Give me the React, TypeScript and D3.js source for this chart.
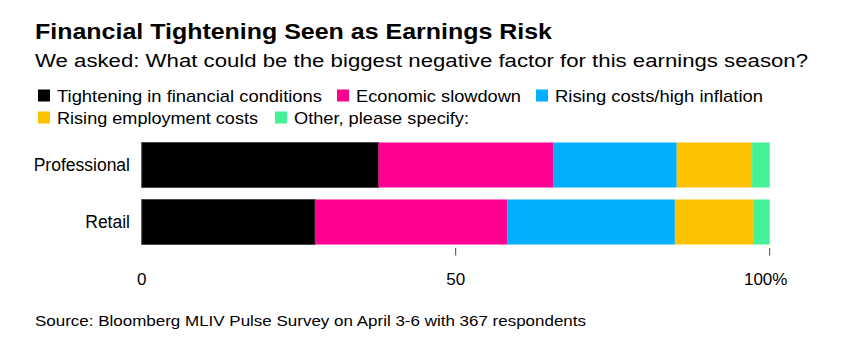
import React from "react";
import * as d3 from "d3";

const categories = ["Professional", "Retail"];
const seriesNames = [
  "Tightening in financial conditions",
  "Economic slowdown",
  "Rising costs/high inflation",
  "Rising employment costs",
  "Other, please specify:",
];
const seriesColors = ["#000000", "#ff0090", "#00b0ff", "#fdc300", "#42f295"];
const tighteningValues = [37.7, 27.6];
const slowdownValues = [27.9, 30.6];
const inflationValues = [19.6, 26.7];
const employmentValues = [12.0, 12.6];
const otherValues = [2.8, 2.5];
const tickValues = [0, 50, 100];
const tickLabels = ["0", "50", "100%"];

const title = "Financial Tightening Seen as Earnings Risk";
const subtitle = "We asked: What could be the biggest negative factor for this earnings season?";
const source = "Source: Bloomberg MLIV Pulse Survey on April 3-6 with 367 respondents";

const W = 843;
const H = 356;
const FONT = "'Liberation Sans', Arial, Helvetica, sans-serif";

// legend layout: [row, x of square, text length]
const legendLayout = [
  { row: 0, x: 38, len: 265 },
  { row: 0, x: 337, len: 165 },
  { row: 0, x: 536, len: 208 },
  { row: 1, x: 38, len: 201 },
  { row: 1, x: 275, len: 175 },
];

export default function App() {
  const keys = seriesNames;
  const allValues = [tighteningValues, slowdownValues, inflationValues, employmentValues, otherValues];
  const table = categories.map((c, i) => {
    const row: any = { category: c };
    keys.forEach((k, j) => (row[k] = allValues[j][i]));
    return row;
  });
  const stacked = d3.stack<any>().keys(keys)(table);

  const x = d3.scaleLinear().domain([0, 100]).range([141.7, 769.7]);
  const y = d3.scaleBand<string>().domain(categories).range([142.5, 244.5]).paddingInner(0.21).paddingOuter(0);

  return (
    <svg
      width={W}
      height={H}
      style={{ position: "absolute", left: 0, top: 0, background: "#fff" }}
      fontFamily={FONT}
    >
      <rect x={0} y={0} width={W} height={H} fill="#fff" />
      <text x={35} y={38.5} fontSize={22.5} fontWeight="bold" fill="#000" textLength={517} lengthAdjust="spacingAndGlyphs">
        {title}
      </text>
      <text x={35} y={67} fontSize={17.5} fill="#000" textLength={773} lengthAdjust="spacingAndGlyphs">
        {subtitle}
      </text>
      {legendLayout.map((l, i) => {
        const cy = l.row === 0 ? 95.5 : 117.5;
        return (
          <g key={i}>
            <rect x={l.x} y={cy - 6} width={12} height={12} fill={seriesColors[i]} />
            <text x={l.x + 19} y={cy + 6} fontSize={17} fill="#000" textLength={l.len} lengthAdjust="spacingAndGlyphs">
              {seriesNames[i]}
            </text>
          </g>
        );
      })}

      {stacked.map((s, i) => (
        <g key={s.key} fill={seriesColors[i]}>
          {s.map((d, j) => (
            <rect
              key={j}
              x={x(d[0])}
              y={y(categories[j])!}
              width={x(d[1]) - x(d[0])}
              height={y.bandwidth()}
              stroke={i === 0 ? "#4a4a4a" : "none"}
              strokeWidth={i === 0 ? 1 : 0}
            />
          ))}
        </g>
      ))}

      {categories.map((c) => (
        <text
          key={c}
          x={130}
          y={y(c)! + y.bandwidth() / 2 + 6}
          fontSize={17.5}
          textAnchor="end"
          fill="#000"
        >
          {c}
        </text>
      ))}

      {tickValues.map((t, i) => (
        <g key={t}>
          {t !== 0 && <line x1={x(t)} x2={x(t)} y1={248} y2={255.5} stroke="#444" strokeWidth={1} />}
          <text
            x={i === tickValues.length - 1 ? x(t) - 4 : x(t)}
            y={285}
            fontSize={17}
            textAnchor="middle"
            fill="#000"
          >
            {tickLabels[i]}
          </text>
        </g>
      ))}

      <text x={35} y={325.5} fontSize={15} fill="#000" textLength={551} lengthAdjust="spacingAndGlyphs">
        {source}
      </text>
    </svg>
  );
}
